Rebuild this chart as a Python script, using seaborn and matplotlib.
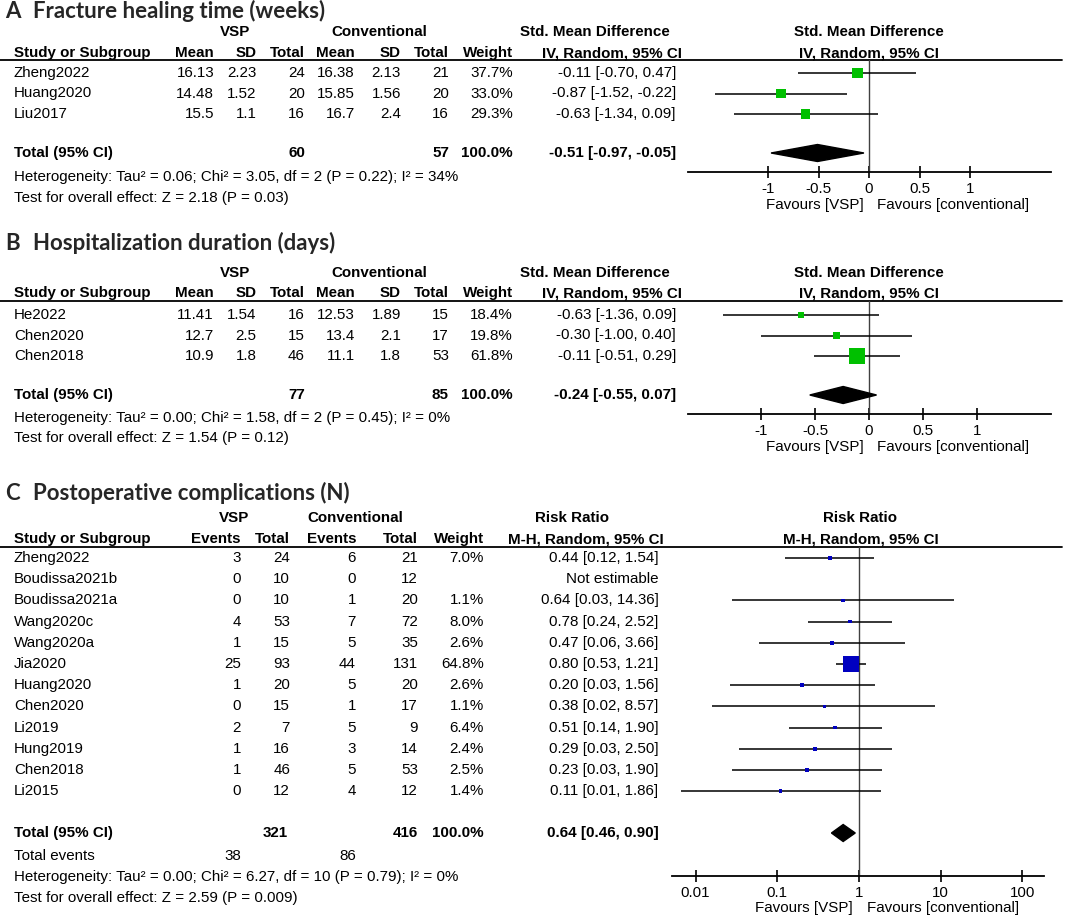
import numpy as np
import seaborn as sns
import matplotlib.pyplot as plt
from matplotlib.patches import Polygon

# ---------------- data ----------------
# A  Fracture healing time (weeks)
a_study = ['Zheng2022', 'Huang2020', 'Liu2017']
a_vsp_mean = [16.13, 14.48, 15.5]
a_vsp_sd = [2.23, 1.52, 1.1]
a_vsp_n = [24, 20, 16]
a_con_mean = [16.38, 15.85, 16.7]
a_con_sd = [2.13, 1.56, 2.4]
a_con_n = [21, 20, 16]
a_weight = [37.7, 33.0, 29.3]
a_est = [-0.11, -0.87, -0.63]
a_lo = [-0.70, -1.52, -1.34]
a_hi = [0.47, -0.22, 0.09]
a_total = [-0.51, -0.97, -0.05]
a_n_total = [60, 57]
a_het = 'Heterogeneity: Tau² = 0.06; Chi² = 3.05, df = 2 (P = 0.22); I² = 34%'
a_test = 'Test for overall effect: Z = 2.18 (P = 0.03)'

# B  Hospitalization duration (days)
b_study = ['He2022', 'Chen2020', 'Chen2018']
b_vsp_mean = [11.41, 12.7, 10.9]
b_vsp_sd = [1.54, 2.5, 1.8]
b_vsp_n = [16, 15, 46]
b_con_mean = [12.53, 13.4, 11.1]
b_con_sd = [1.89, 2.1, 1.8]
b_con_n = [15, 17, 53]
b_weight = [18.4, 19.8, 61.8]
b_est = [-0.63, -0.30, -0.11]
b_lo = [-1.36, -1.00, -0.51]
b_hi = [0.09, 0.40, 0.29]
b_total = [-0.24, -0.55, 0.07]
b_n_total = [77, 85]
b_het = 'Heterogeneity: Tau² = 0.00; Chi² = 1.58, df = 2 (P = 0.45); I² = 0%'
b_test = 'Test for overall effect: Z = 1.54 (P = 0.12)'

# C  Postoperative complications (N)
c_study = ['Zheng2022', 'Boudissa2021b', 'Boudissa2021a', 'Wang2020c', 'Wang2020a', 'Jia2020',
           'Huang2020', 'Chen2020', 'Li2019', 'Hung2019', 'Chen2018', 'Li2015']
c_vsp_ev = [3, 0, 0, 4, 1, 25, 1, 0, 2, 1, 1, 0]
c_vsp_n = [24, 10, 10, 53, 15, 93, 20, 15, 7, 16, 46, 12]
c_con_ev = [6, 0, 1, 7, 5, 44, 5, 1, 5, 3, 5, 4]
c_con_n = [21, 12, 20, 72, 35, 131, 20, 17, 9, 14, 53, 12]
c_weight = [7.0, np.nan, 1.1, 8.0, 2.6, 64.8, 2.6, 1.1, 6.4, 2.4, 2.5, 1.4]
c_est = [0.44, np.nan, 0.64, 0.78, 0.47, 0.80, 0.20, 0.38, 0.51, 0.29, 0.23, 0.11]
c_lo = [0.125, np.nan, 0.028, 0.24, 0.06, 0.53, 0.026, 0.016, 0.14, 0.034, 0.028, 0.0066]
c_hi = [1.54, np.nan, 14.36, 2.52, 3.66, 1.21, 1.56, 8.57, 1.90, 2.50, 1.90, 1.86]
c_total = [0.64, 0.46, 0.90]
c_n_total = [321, 416]
c_ev_total = [38, 86]
c_het = 'Heterogeneity: Tau² = 0.00; Chi² = 6.27, df = 10 (P = 0.79); I² = 0%'
c_test = 'Test for overall effect: Z = 2.59 (P = 0.009)'

# ---------------- style ----------------
sns.set_theme(style='white')
plt.rcParams['font.family'] = ['Liberation Sans', 'DejaVu Sans']
plt.rcParams['axes.unicode_minus'] = False

W, H = 1065, 917
FS = 10.9
GREEN = '#00c000'
BLUE = '#0000c0'

fig = plt.figure(figsize=(W / 100, H / 100), dpi=100)
bg = fig.add_axes([0, 0, 1, 1])
bg.set_xlim(0, W)
bg.set_ylim(H, 0)
bg.axis('off')


def txt(x, y, s, ha='left', bold=False):
    bg.text(x, y, s, ha=ha, va='center', fontsize=FS,
            fontweight='bold' if bold else 'normal', color='black')


def title(y, letter, s):
    bg.text(5, y, letter, ha='left', va='center', fontsize=16, fontweight='bold', family='Lato')
    bg.text(33, y, s, ha='left', va='center', fontsize=16, fontweight='bold', family='Lato')


def sq_size(w):
    # square side in px grows a bit slower than linear with weight, with a small floor
    side_px = np.maximum(3.6, 0.8 * np.asarray(w) ** 0.72)
    return (side_px * 0.72) ** 2


def plot_axes(x0, x1, ytop, ybot):
    ax = fig.add_axes([x0 / W, 1 - ybot / H, (x1 - x0) / W, (ybot - ytop) / H])
    ax.set_facecolor('none')
    ax.set_ylim(ybot, ytop)
    for s in ['top', 'left', 'right']:
        ax.spines[s].set_visible(False)
    ax.spines['bottom'].set_linewidth(1.3)
    ax.spines['bottom'].set_color('black')
    ax.set_yticks([])
    ax.tick_params(axis='x', direction='inout', length=8, width=1.2, labelsize=FS,
                   pad=3, colors='black', bottom=True)
    return ax


def draw_forest(ax, ys, est, lo, hi, w, color, total, ytot, null):
    ys = np.asarray(ys, float)
    est, lo, hi, w = map(lambda v: np.asarray(v, float), (est, lo, hi, w))
    ok = ~np.isnan(est)
    ax.axvline(null, color='#404040', lw=1.0, zorder=1)
    ax.hlines(ys[ok], lo[ok], hi[ok], color='black', lw=1.1, zorder=2)
    sns.scatterplot(x=est[ok], y=ys[ok], s=sq_size(w[ok]), marker='s', color=color,
                    linewidth=0, ax=ax, zorder=3, legend=False)
    e, l, h = total
    ax.add_patch(Polygon([(l, ytot), (e, ytot - 8.5), (h, ytot), (e, ytot + 8.5)],
                         closed=True, color='black', zorder=3))


def continuous_panel(L, letter, name, study, m1, s1, n1, m2, s2, n2, w, est, lo, hi,
                     total, ntot, het, test, unit):
    title(L['title'], letter, name)
    # header
    txt(235, L['h1'], 'VSP', 'center', True)
    txt(379, L['h1'], 'Conventional', 'center', True)
    txt(595, L['h1'], 'Std. Mean Difference', 'center', True)
    txt(869, L['h1'], 'Std. Mean Difference', 'center', True)
    txt(13.8, L['h2'], 'Study or Subgroup', 'left', True)
    for x, s in zip([214, 256.5, 305, 355, 401, 449, 513],
                    ['Mean', 'SD', 'Total', 'Mean', 'SD', 'Total', 'Weight']):
        txt(x, L['h2'], s, 'right', True)
    txt(612, L['h2'], 'IV, Random, 95% CI', 'center', True)
    txt(869, L['h2'], 'IV, Random, 95% CI', 'center', True)
    bg.plot([0, 1062], [L['line'], L['line']], color='black', lw=1.3)

    ys = [L['row0'] + i * L['step'] for i in range(len(study))]
    for i, y in enumerate(ys):
        txt(13.8, y, study[i])
        for x, v in zip([214, 256.5, 305, 355, 401, 449],
                        [m1[i], s1[i], n1[i], m2[i], s2[i], n2[i]]):
            txt(x, y, str(v), 'right')
        txt(513, y, f'{w[i]:.1f}%', 'right')
        txt(676, y, f'{est[i]:.2f} [{lo[i]:.2f}, {hi[i]:.2f}]', 'right')
    yt = L['total']
    txt(13.8, yt, 'Total (95% CI)', 'left', True)
    txt(305, yt, str(ntot[0]), 'right', True)
    txt(449, yt, str(ntot[1]), 'right', True)
    txt(513, yt, '100.0%', 'right', True)
    txt(676, yt, f'{total[0]:.2f} [{total[1]:.2f}, {total[2]:.2f}]', 'right', True)
    txt(13.8, L['het'], het)
    txt(13.8, L['test'], test)

    zero, x0, x1 = 869, 688, 1051
    ax = plot_axes(x0, x1, L['line'], L['axis'])
    ax.set_xlim((x0 - zero) / unit, (x1 - zero) / unit)
    ticks = [-1, -0.5, 0, 0.5, 1]
    ax.set_xticks(ticks, labels=[f'{t:g}' for t in ticks])
    draw_forest(ax, ys, est, lo, hi, w, GREEN, total, yt, 0)
    txt(zero - 5, L['fav'], 'Favours [VSP]', 'right')
    txt(zero + 8, L['fav'], 'Favours [conventional]', 'left')


LA = dict(title=11, h1=32, h2=53, line=60, row0=73, step=20.5, total=153,
          het=177, test=198, axis=172, fav=205)
LB = dict(title=243, h1=273, h2=293, line=301, row0=315, step=20.5, total=395,
          het=418, test=438, axis=414, fav=447)
LC = dict(title=493, h1=518, h2=539, line=547, row0=558, step=21.2, total=833,
          events=856, het=877, test=898, axis=876, fav=908)

continuous_panel(LA, 'A', 'Fracture healing time (weeks)', a_study, a_vsp_mean, a_vsp_sd,
                 a_vsp_n, a_con_mean, a_con_sd, a_con_n, a_weight, a_est, a_lo, a_hi,
                 a_total, a_n_total, a_het, a_test, unit=101)
continuous_panel(LB, 'B', 'Hospitalization duration (days)', b_study, b_vsp_mean, b_vsp_sd,
                 b_vsp_n, b_con_mean, b_con_sd, b_con_n, b_weight, b_est, b_lo, b_hi,
                 b_total, b_n_total, b_het, b_test, unit=107.7)

# ---------------- panel C ----------------
L = LC
title(L['title'], 'C', 'Postoperative complications (N)')
txt(234, L['h1'], 'VSP', 'center', True)
txt(355, L['h1'], 'Conventional', 'center', True)
txt(572, L['h1'], 'Risk Ratio', 'center', True)
txt(860, L['h1'], 'Risk Ratio', 'center', True)
txt(13.8, L['h2'], 'Study or Subgroup', 'left', True)
for x, s in zip([241, 290, 356, 418, 484], ['Events', 'Total', 'Events', 'Total', 'Weight']):
    txt(x, L['h2'], s, 'right', True)
txt(586, L['h2'], 'M-H, Random, 95% CI', 'center', True)
txt(861, L['h2'], 'M-H, Random, 95% CI', 'center', True)
bg.plot([0, 1062], [L['line'], L['line']], color='black', lw=1.3)

c_ys = [L['row0'] + i * L['step'] for i in range(len(c_study))]
for i, y in enumerate(c_ys):
    txt(13.8, y, c_study[i])
    for x, v in zip([241, 290, 356, 418], [c_vsp_ev[i], c_vsp_n[i], c_con_ev[i], c_con_n[i]]):
        txt(x, y, str(v), 'right')
    if np.isnan(c_est[i]):
        txt(658.6, y, 'Not estimable', 'right')
    else:
        txt(484, y, f'{c_weight[i]:.1f}%', 'right')
        txt(658.6, y, f'{c_est[i]:.2f} [{c_lo[i]:.2f}, {c_hi[i]:.2f}]', 'right')
yt = L['total']
txt(13.8, yt, 'Total (95% CI)', 'left', True)
txt(288, yt, str(c_n_total[0]), 'right', True)
txt(418, yt, str(c_n_total[1]), 'right', True)
txt(484, yt, '100.0%', 'right', True)
txt(658.6, yt, f'{c_total[0]:.2f} [{c_total[1]:.2f}, {c_total[2]:.2f}]', 'right', True)
txt(13.8, L['events'], 'Total events')
txt(241, L['events'], str(c_ev_total[0]), 'right')
txt(356, L['events'], str(c_ev_total[1]), 'right')
txt(13.8, L['het'], c_het)
txt(13.8, L['test'], c_test)

one, dec, x0, x1 = 859, 81.7, 672, 1044
ax = plot_axes(x0, x1, L['line'], L['axis'])
ax.set_xscale('log')
ax.set_xlim(10 ** ((x0 - one) / dec), 10 ** ((x1 - one) / dec))
ticks = [0.01, 0.1, 1, 10, 100]
ax.set_xticks(ticks, labels=[f'{t:g}' for t in ticks])
ax.minorticks_off()
draw_forest(ax, c_ys, c_est, c_lo, c_hi, c_weight, BLUE, c_total, yt, 1)
txt(one - 6, L['fav'], 'Favours [VSP]', 'right')
txt(one + 8, L['fav'], 'Favours [conventional]', 'left')

fig.savefig('out.png', dpi=100)
